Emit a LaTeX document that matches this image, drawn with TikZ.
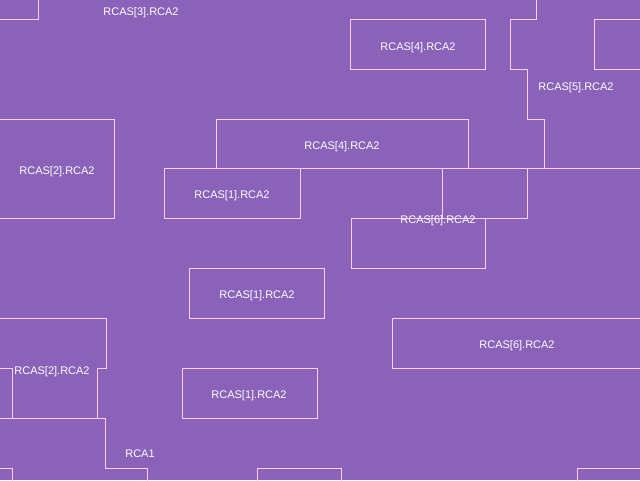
\documentclass[tikz,border=0pt]{standalone}
\usepackage{fontspec}
\setmainfont{Liberation Sans}
\definecolor{bgc}{RGB}{138,98,186}
\definecolor{edgec}{RGB}{255,205,255}
\begin{document}
\begin{tikzpicture}[x=1pt,y=-1pt,
  region/.style={draw=edgec,line width=1pt},
  lbl/.style={text=white,font=\fontsize{11}{13}\selectfont,inner sep=0pt}]
\useasboundingbox (0,0) rectangle (640,480);
\fill[bgc] (0,0) rectangle (640,480);
\begin{scope}
\clip (0,0) rectangle (640,480);
% top-left corner
\draw[region] (0,19.5) -- (38.5,19.5) -- (38.5,-2);
% top RCAS[4] box
\draw[region] (350.5,19.5) rectangle (485.5,69.5);
% right staircase
\draw[region] (536.5,-2) -- (536.5,19.5) -- (510.5,19.5) -- (510.5,69.5) -- (527.5,69.5)
  -- (527.5,119.5) -- (544.5,119.5) -- (544.5,168.5) -- (642,168.5);
% top right box
\draw[region] (642,19.5) -- (594.5,19.5) -- (594.5,69.5) -- (642,69.5);
% RCAS[2] left box
\draw[region] (-2,119.5) -- (114.5,119.5) -- (114.5,218.5) -- (-2,218.5);
% RCAS[4] middle box
\draw[region] (216.5,119.5) rectangle (468.5,168.5);
% long line y=168 and RCAS[1] box
\draw[region] (164.5,168.5) -- (544.5,168.5);
\draw[region] (164.5,168.5) rectangle (300.5,218.5);
\draw[region] (442.5,168.5) -- (442.5,218.5);
\draw[region] (527.5,168.5) -- (527.5,218.5);
\draw[region] (351.5,218.5) -- (527.5,218.5);
% RCAS[6] box
\draw[region] (351.5,218.5) rectangle (485.5,268.5);
% RCAS[1] second box
\draw[region] (189.5,268.5) rectangle (324.5,318.5);
% RCAS[6] second box
\draw[region] (642,318.5) -- (392.5,318.5) -- (392.5,368.5) -- (642,368.5);
% bottom-left region
\draw[region] (-2,318.5) -- (106.5,318.5) -- (106.5,368.5) -- (97.5,368.5) -- (97.5,418.5);
\draw[region] (-2,368.5) -- (12.5,368.5) -- (12.5,418.5);
\draw[region] (-2,418.5) -- (105.5,418.5) -- (105.5,468.5) -- (147.5,468.5) -- (147.5,482);
% RCAS[1] third box
\draw[region] (182.5,368.5) rectangle (317.5,418.5);
% bottom boxes
\draw[region] (-2,468.5) -- (12.5,468.5) -- (12.5,482);
\draw[region] (257.5,482) -- (257.5,468.5) -- (341.5,468.5) -- (341.5,482);
\draw[region] (577.5,482) -- (577.5,468.5) -- (642,468.5);
\end{scope}
% labels
\node[lbl] (l3) at (141,13) {RCAS[3].RCA2};
\node[lbl] (l4a) at (418,48) {RCAS[4].RCA2};
\node[lbl] (l5) at (576,88) {RCAS[5].RCA2};
\node[lbl] (l2a) at (57,172) {RCAS[2].RCA2};
\node[lbl] (l4b) at (342,147) {RCAS[4].RCA2};
\node[lbl] (l1a) at (232,196) {RCAS[1].RCA2};
\node[lbl] (l6a) at (438,221) {RCAS[6].RCA2};
\node[lbl] (l1b) at (257,296) {RCAS[1].RCA2};
\node[lbl] (l6b) at (517,346) {RCAS[6].RCA2};
\node[lbl] (l2b) at (52,372) {RCAS[2].RCA2};
\node[lbl] (l1c) at (249,396) {RCAS[1].RCA2};
\node[lbl] (rca1) at (140,454) {RCA1};
\end{tikzpicture}
\end{document}
